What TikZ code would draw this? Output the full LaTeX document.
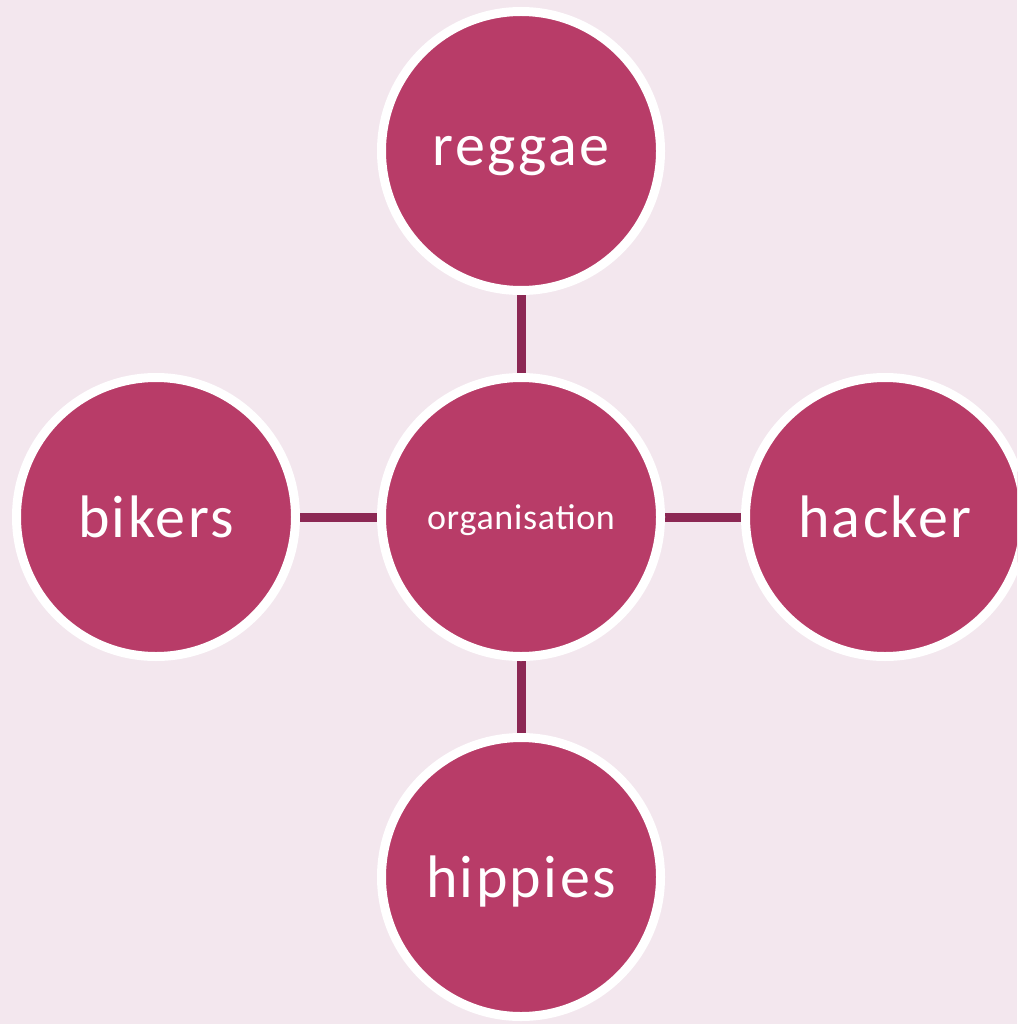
\documentclass[tikz,border=0pt]{standalone}
\usepackage{fontspec}
\setmainfont{Carlito}
\usetikzlibrary{backgrounds}
\definecolor{bgpink}{RGB}{243,231,238}
\definecolor{circfill}{RGB}{184,60,104}
\definecolor{linkcol}{RGB}{140,40,84}
\tikzset{
  bubble/.style={circle, fill=circfill, draw=white, line width=9pt,
    minimum size=279pt, inner sep=0pt, text=white, text depth=0pt},
  bigtext/.style={font=\fontsize{60}{60}\selectfont\addfontfeatures{LetterSpace=4}},
  smalltext/.style={font=\fontsize{36}{36}\selectfont\addfontfeatures{LetterSpace=2}},
  link/.style={draw=linkcol, line width=9pt}
}
\begin{document}
\begin{tikzpicture}[x=1pt,y=-1pt]
\useasboundingbox (0,0) rectangle (1017,1024);
\begin{scope}
\clip (0,0) rectangle (1017,1024);
\node[bubble, smalltext] (org) at (521,517) {organisation};
\node[bubble, bigtext] (reggae) at (521,151) {reggae};
\node[bubble, bigtext] (hippies) at (521,877) {hippies};
\node[bubble, bigtext] (bikers) at (156,517) {bikers};
\node[bubble, bigtext] (hacker) at (885,517) {hacker};
\begin{scope}[on background layer]
\path[fill=bgpink] (0,0) rectangle (1017,1024);
\draw[link] (org) -- (reggae);
\draw[link] (org) -- (hippies);
\draw[link] (org) -- (bikers);
\draw[link] (org) -- (hacker);
\end{scope}
\end{scope}
\end{tikzpicture}
\end{document}
